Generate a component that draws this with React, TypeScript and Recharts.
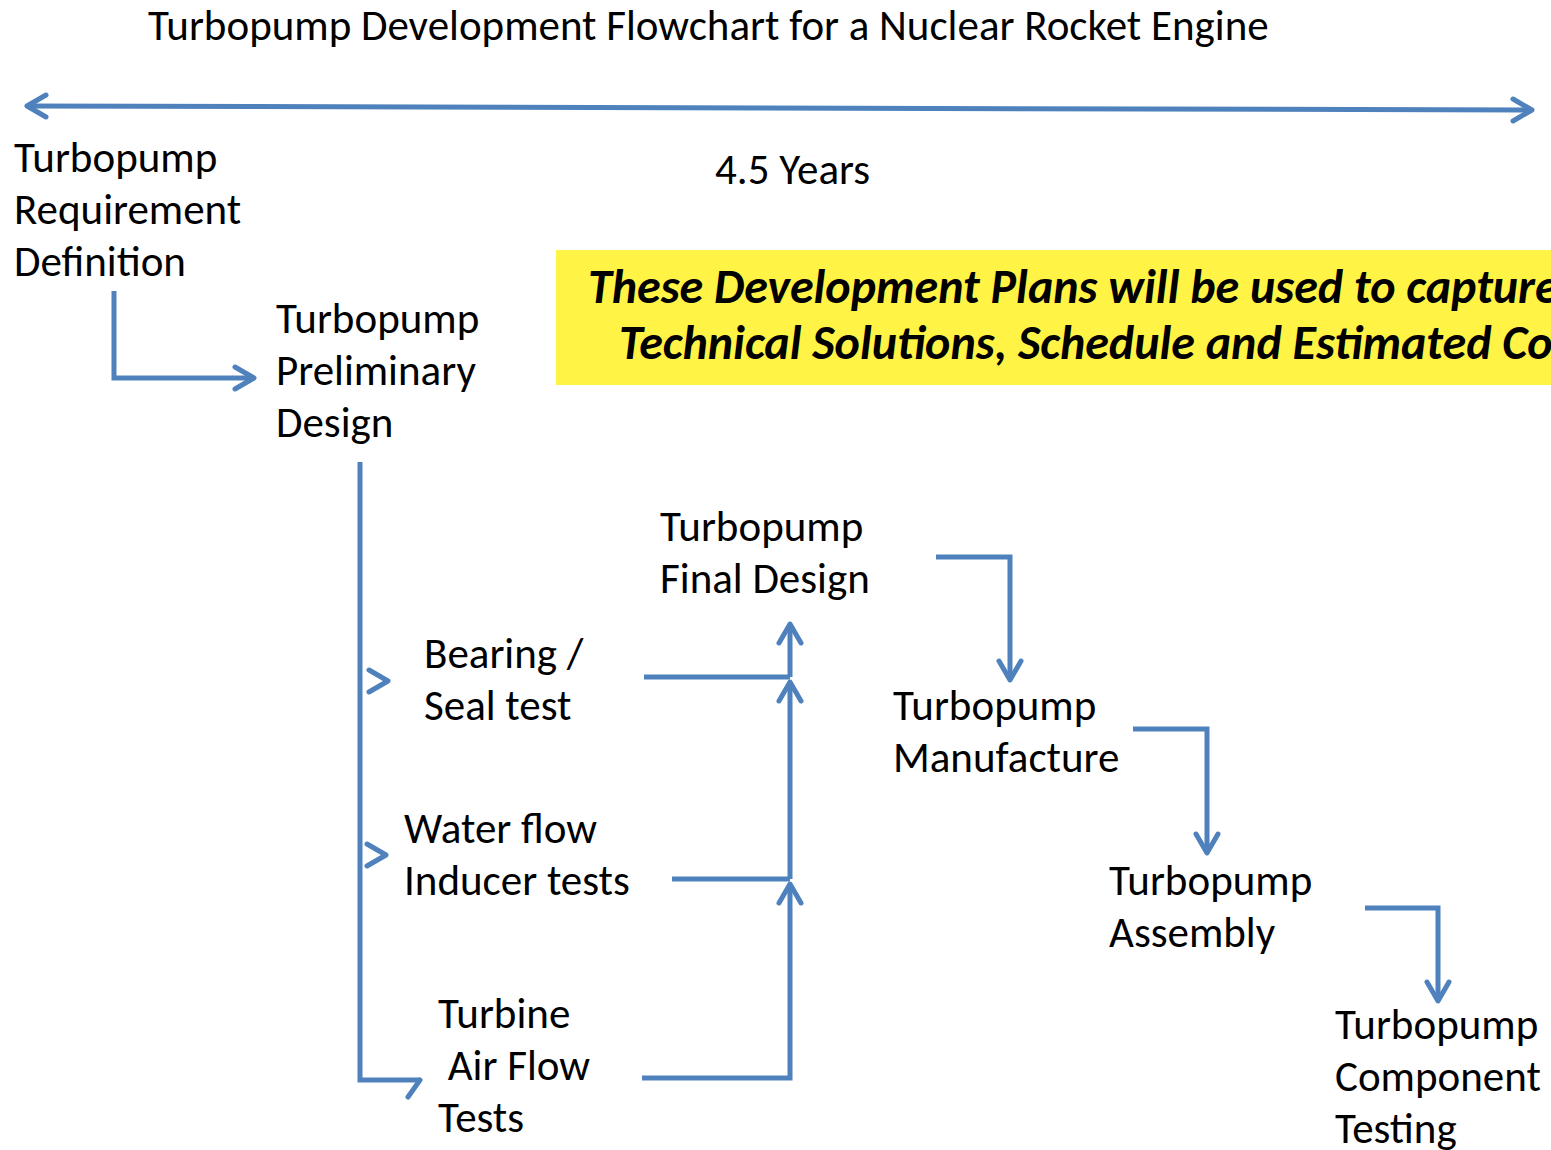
import React from 'react';
import { ComposedChart, XAxis, YAxis, Scatter, ReferenceArea } from 'recharts';

const W = 1551;
const H = 1150;
const BLUE = '#4F81BD';
const FONT = 'Carlito, Calibri, Lato, "Open Sans", sans-serif';
const LINE_GAP = 52;

// chart units are pixels: x from the left edge, y from the top
const title = [{ x: 148, y: 40, lines: ['Turbopump Development Flowchart for a Nuclear Rocket Engine'] }];
const duration = [{ x: 715, y: 184, lines: ['4.5 Years'] }];

const steps = [
  { x: 14, y: 172, lines: ['Turbopump', 'Requirement', 'Definition'] },
  { x: 276, y: 333, lines: ['Turbopump', 'Preliminary', 'Design'] },
  { x: 660, y: 541, lines: ['Turbopump', 'Final Design'] },
  { x: 424, y: 668, lines: ['Bearing /', 'Seal test'] },
  { x: 404, y: 843, lines: ['Water flow', 'Inducer tests'] },
  { x: 438, y: 1028, lines: ['Turbine', ' Air Flow', 'Tests'] },
  { x: 893, y: 720, lines: ['Turbopump', 'Manufacture'] },
  { x: 1109, y: 895, lines: ['Turbopump', 'Assembly'] },
  { x: 1335, y: 1039, lines: ['Turbopump', 'Component', 'Testing'] },
];

const noteBox = { x1: 556, x2: 1551, y1: 250, y2: 385 };
const noteLines = [
  { x: 588, y: 303, lines: ['These Development Plans will be used to capture the'] },
  { x: 619, y: 359, lines: ['Technical Solutions, Schedule and Estimated Cost'] },
];

// connectors, head marks where an arrowhead sits
const timeline = [{ x: 27, y: 106, head: 'left' }, { x: 1532, y: 110, head: 'right' }];
const reqToPrelim = [{ x: 114, y: 291 }, { x: 114, y: 378 }, { x: 254, y: 378, head: 'right' }];
const prelimTrunk = [{ x: 360, y: 462 }, { x: 360, y: 1080 }, { x: 420, y: 1080, head: 'half' }];
const bearingIn = [{ x: 388, y: 681, head: 'right' }];
const waterIn = [{ x: 386, y: 855, head: 'right' }];
const bearingOut = [{ x: 644, y: 677 }, { x: 790, y: 677 }];
const waterOut = [{ x: 672, y: 879 }, { x: 790, y: 879 }];
const turbineOut = [{ x: 642, y: 1078 }, { x: 790, y: 1078 }, { x: 790, y: 884, head: 'up' }];
const riserMid = [{ x: 790, y: 879 }, { x: 790, y: 682, head: 'up' }];
const riserTop = [{ x: 790, y: 677 }, { x: 790, y: 624, head: 'up' }];
const finalToMfg = [{ x: 936, y: 557 }, { x: 1010, y: 557 }, { x: 1010, y: 680, head: 'down' }];
const mfgToAsm = [{ x: 1133, y: 729 }, { x: 1207, y: 729 }, { x: 1207, y: 853, head: 'down' }];
const asmToTest = [{ x: 1365, y: 908 }, { x: 1438, y: 908 }, { x: 1438, y: 1001, head: 'down' }];

const connectors = [
  timeline, reqToPrelim, prelimTrunk, bearingIn, waterIn, bearingOut, waterOut,
  turbineOut, riserMid, riserTop, finalToMfg, mfgToAsm, asmToTest,
];

const ArrowHead = (props: any) => {
  const { cx, cy, payload } = props;
  const dir = payload && payload.head;
  if (!dir) return <g />;
  const b = 19;
  const h = 11;
  let d = '';
  if (dir === 'right') d = `M${cx - b},${cy - h} L${cx},${cy} L${cx - b},${cy + h}`;
  if (dir === 'left') d = `M${cx + b},${cy - h} L${cx},${cy} L${cx + b},${cy + h}`;
  if (dir === 'up') d = `M${cx - h},${cy + b} L${cx},${cy} L${cx + h},${cy + b}`;
  if (dir === 'down') d = `M${cx - h},${cy - b} L${cx},${cy} L${cx + h},${cy - b}`;
  if (dir === 'half') d = `M${cx},${cy} L${cx - 12},${cy + 17}`;
  return (
    <path d={d} fill="none" stroke={BLUE} strokeWidth={5} strokeLinecap="round" strokeLinejoin="round" />
  );
};

const makeText = (style: React.SVGProps<SVGTextElement>) => (props: any) => {
  const { cx, cy, payload } = props;
  return (
    <text x={cx} y={cy} fill="#000" style={{ whiteSpace: 'pre' }} {...style}>
      {payload.lines.map((l: string, i: number) => (
        <tspan key={i} x={cx} dy={i === 0 ? 0 : LINE_GAP}>
          {l}
        </tspan>
      ))}
    </text>
  );
};

const PlainText = makeText({ fontFamily: FONT, fontSize: 43 });
const NoteText = makeText({ fontFamily: FONT, fontSize: 48, fontWeight: 700, fontStyle: 'italic' });

export default function App() {
  return (
    <div style={{ position: 'absolute', left: 0, top: 0, width: W, height: H, background: '#fff', overflow: 'hidden' }}>
      <ComposedChart width={W} height={H} margin={{ top: 0, right: 0, bottom: 0, left: 0 }}>
        <XAxis type="number" dataKey="x" domain={[0, W]} allowDataOverflow hide />
        <YAxis type="number" dataKey="y" domain={[0, H]} allowDataOverflow reversed hide />
        <ReferenceArea
          x1={noteBox.x1}
          x2={noteBox.x2}
          y1={noteBox.y1}
          y2={noteBox.y2}
          fill="#FFF345"
          fillOpacity={1}
          stroke="none"
          ifOverflow="visible"
        />
        {connectors.map((pts, i) => (
          <Scatter
            key={`c${i}`}
            data={pts}
            line={{ stroke: BLUE, strokeWidth: 5, strokeLinejoin: 'miter' }}
            lineType="joint"
            shape={ArrowHead}
            isAnimationActive={false}
          />
        ))}
        <Scatter data={title} shape={PlainText} isAnimationActive={false} />
        <Scatter data={duration} shape={PlainText} isAnimationActive={false} />
        <Scatter data={steps} shape={PlainText} isAnimationActive={false} />
        <Scatter data={noteLines} shape={NoteText} isAnimationActive={false} />
      </ComposedChart>
    </div>
  );
}
